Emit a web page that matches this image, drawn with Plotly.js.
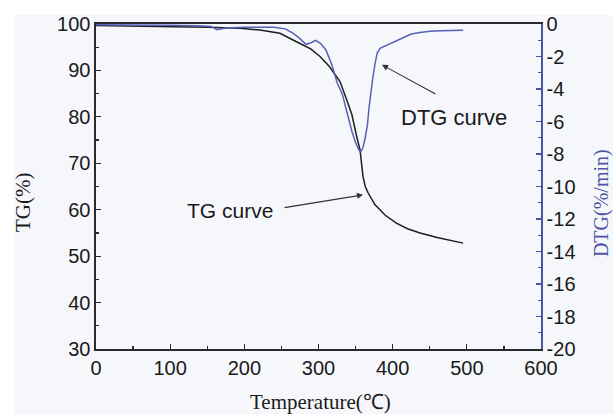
<!DOCTYPE html>
<html>
<head>
<meta charset="utf-8">
<script src="https://cdn.plot.ly/plotly-3.0.1.min.js"></script>
<style>
  html, body { margin: 0; padding: 0; background: #ffffff; }
  #chart { width: 613px; height: 414px; }
</style>
</head>
<body>
<div id="chart"></div>
<script>
// Thermogravimetric run: mass retained (TG) and its derivative (DTG)
const tgTemp = [0, 50, 100, 150, 194, 221, 248, 262, 275, 290, 302, 315, 329, 338, 345, 351, 356, 360, 363, 367, 376, 390, 405, 420, 437, 460, 480, 495];
const tgMass = [99.7, 99.6, 99.5, 99.3, 99.1, 98.7, 98.0, 96.8, 95.8, 94.6, 93.0, 90.8, 87.6, 83.7, 80.5, 76.1, 72.9, 67.2, 65.0, 63.6, 61.1, 58.8, 57.1, 55.9, 55.0, 54.0, 53.3, 52.8];

const dtgTemp = [0, 50, 100, 140, 155, 163, 175, 200, 240, 255, 265, 275, 283, 290, 296, 303, 310, 318, 325, 332, 339, 345, 350, 355, 357, 360, 363, 366, 368, 370, 373, 376, 379, 383, 390, 398, 405, 414, 425, 437, 450, 465, 480, 495];
const dtgRate = [-0.05, -0.05, -0.08, -0.1, -0.15, -0.35, -0.25, -0.2, -0.2, -0.3, -0.55, -0.9, -1.25, -1.15, -1.0, -1.2, -1.6, -2.5, -3.6, -4.3, -5.6, -6.6, -7.3, -7.8, -7.86, -7.6, -7.0, -6.2, -5.2, -4.4, -3.4, -2.5, -1.8, -1.5, -1.35, -1.2, -1.0, -0.85, -0.62, -0.52, -0.45, -0.42, -0.40, -0.39];

const dtgTickVals = [0, -2, -4, -6, -8, -10, -12, -14, -16, -18, -20];
const dtgTickText = ['0', '-2', '-4', '-6', '-8', '-10', '-12', '-14', '-16', '-18', '-20'];

const sans = 'Liberation Sans, Arial, sans-serif';
const serif = 'Liberation Serif, Times New Roman, serif';
const axisBlack = '#2b2b2b';
const axisBlue = '#4b55a8';
const tickFont = { family: sans, size: 20, color: '#1a1a1a' };

const traces = [
  {
    x: tgTemp, y: tgMass, type: 'scatter', mode: 'lines',
    line: { color: '#1e1e1e', width: 1.5 }, name: 'TG', xaxis: 'x', yaxis: 'y'
  },
  {
    x: dtgTemp, y: dtgRate, type: 'scatter', mode: 'lines',
    line: { color: '#5660b8', width: 1.5 }, name: 'DTG', xaxis: 'x', yaxis: 'y2'
  }
];

const layout = {
  width: 613, height: 414,
  margin: { l: 96, r: 72, t: 24, b: 65 },
  paper_bgcolor: '#ffffff',
  plot_bgcolor: 'rgba(0,0,0,0)',
  showlegend: false,
  font: { family: sans, size: 20, color: '#1a1a1a' },
  xaxis: {
    range: [0, 600], dtick: 100, tick0: 0,
    ticks: 'inside', ticklen: 5, tickwidth: 1.2, tickcolor: axisBlack,
    minor: { ticks: 'inside', ticklen: 3, dtick: 50, tickcolor: axisBlack, tickwidth: 1.2 },
    showline: true, linecolor: axisBlack, linewidth: 1.6, mirror: true,
    showgrid: false, zeroline: false,
    tickfont: tickFont
  },
  yaxis: {
    range: [30, 100], dtick: 10, tick0: 30,
    ticks: 'inside', ticklen: 5, tickwidth: 1.2, tickcolor: axisBlack,
    minor: { ticks: 'inside', ticklen: 3, dtick: 5, tickcolor: axisBlack, tickwidth: 1.2 },
    showline: true, linecolor: axisBlack, linewidth: 1.6,
    showgrid: false, zeroline: false,
    tickfont: tickFont
  },
  yaxis2: {
    range: [-20, 0], overlaying: 'y', side: 'right',
    tickmode: 'array', tickvals: dtgTickVals, ticktext: dtgTickText,
    ticks: 'inside', ticklen: 5, tickwidth: 1.2, tickcolor: axisBlue,
    minor: { ticks: 'inside', ticklen: 3, dtick: 1, tick0: 0, tickcolor: axisBlue, tickwidth: 1.2 },
    showline: true, linecolor: axisBlue, linewidth: 1.6,
    showgrid: false, zeroline: false,
    tickfont: tickFont
  },
  shapes: [
    {
      type: 'rect', layer: 'below', xref: 'paper', yref: 'paper',
      x0: -0.184, x1: 1.2, y0: -0.25, y1: 1.028,
      fillcolor: '#f6f7fb', line: { width: 0 }
    }
  ],
  annotations: [
    // axis titles
    {
      xref: 'paper', yref: 'paper', x: 0.5047, y: -0.163,
      text: 'Temperature(℃)', showarrow: false,
      font: { family: serif, size: 21, color: '#1a1a1a' },
      xanchor: 'center', yanchor: 'middle'
    },
    {
      xref: 'paper', yref: 'paper', x: -0.164, y: 0.449,
      text: 'TG(%)', showarrow: false, textangle: -90,
      font: { family: serif, size: 21, color: '#1a1a1a' },
      xanchor: 'center', yanchor: 'middle'
    },
    {
      xref: 'paper', yref: 'paper', x: (601 - 96) / 445, y: 0.449,
      text: 'DTG(%/min)', showarrow: false, textangle: -90,
      font: { family: serif, size: 20, color: axisBlue },
      xanchor: 'center', yanchor: 'middle'
    },
    // curve labels
    {
      xref: 'paper', yref: 'paper', x: (230 - 96) / 445, y: (349 - 210) / 325,
      text: 'TG curve', showarrow: false,
      font: { family: sans, size: 21, color: '#1a1a1a' },
      xanchor: 'center', yanchor: 'middle'
    },
    {
      xref: 'paper', yref: 'paper', x: (454 - 96) / 445, y: (349 - 117) / 325,
      text: 'DTG curve', showarrow: false,
      font: { family: sans, size: 22, color: '#1a1a1a' },
      xanchor: 'center', yanchor: 'middle'
    },
    // leader arrows
    {
      xref: 'x', yref: 'y', x: 360, y: 63.2, ax: -80, ay: 13,
      text: '', showarrow: true, arrowhead: 2, arrowsize: 1.1, arrowwidth: 1.1,
      arrowcolor: '#333333', standoff: 0, startstandoff: 0
    },
    {
      xref: 'x', yref: 'y', x: 385.6, y: 91.2, ax: 55, ay: 30,
      text: '', showarrow: true, arrowhead: 2, arrowsize: 1.1, arrowwidth: 1.1,
      arrowcolor: '#333333', standoff: 0, startstandoff: 0
    }
  ]
};

Plotly.newPlot('chart', traces, layout, { displayModeBar: false, staticPlot: true });
</script>
</body>
</html>
